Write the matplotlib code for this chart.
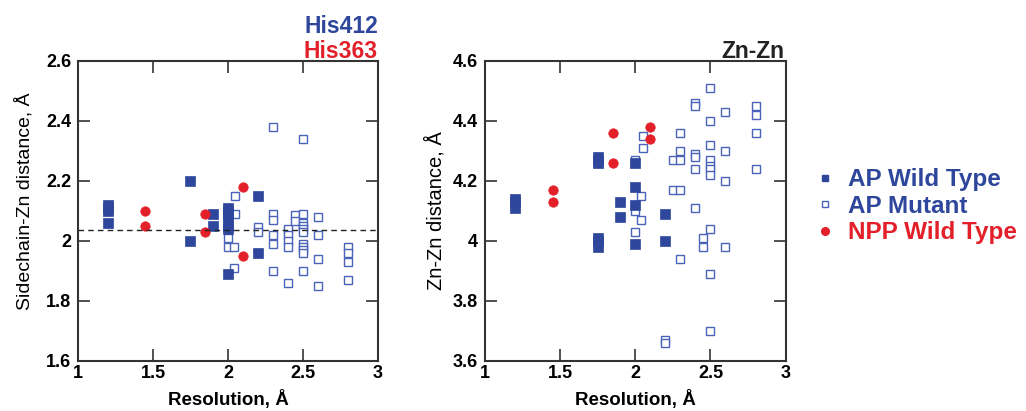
import matplotlib.pyplot as plt

plt.rcParams['font.family'] = ['Liberation Sans', 'DejaVu Sans']

BLUE = '#2E479C'
BLUE_OPEN = '#4A62B8'
RED = '#E3202A'

# ---- left panel: sidechain-Zn distance ----
wt_res_L = [1.2, 1.2, 1.2, 1.2, 1.75, 1.75, 1.9, 1.9,
            2.0, 2.0, 2.0, 2.0, 2.0, 2.0, 2.0, 2.2, 2.2]
wt_dist_L = [2.12, 2.11, 2.10, 2.06, 2.20, 2.00, 2.09, 2.05,
             2.11, 2.10, 2.09, 2.08, 2.05, 2.04, 1.89, 2.15, 1.96]

mut_res_L = [2.0, 2.0, 2.0, 2.04, 2.04, 2.05, 2.05, 2.2, 2.2,
             2.3, 2.3, 2.3, 2.3, 2.3, 2.3,
             2.4, 2.4, 2.4, 2.4, 2.4, 2.45, 2.45,
             2.5, 2.5, 2.5, 2.5, 2.5, 2.5, 2.5, 2.5, 2.5, 2.5, 2.5,
             2.6, 2.6, 2.6, 2.6, 2.8, 2.8, 2.8, 2.8]
mut_dist_L = [2.06, 2.01, 1.98, 1.98, 1.91, 2.15, 2.09, 2.045, 2.03,
              2.38, 2.09, 2.07, 2.02, 1.99, 1.90,
              2.04, 2.02, 2.00, 1.98, 1.86, 2.085, 2.067,
              2.34, 2.09, 2.06, 2.05, 2.04, 2.03, 1.99, 1.98, 1.97, 1.96, 1.90,
              2.08, 2.02, 1.94, 1.85, 1.98, 1.96, 1.93, 1.87]

npp_res_L = [1.45, 1.45, 1.85, 1.85, 2.1, 2.1]
npp_dist_L = [2.10, 2.05, 2.09, 2.03, 2.18, 1.95]

mean_L = 2.038

# ---- right panel: Zn-Zn distance ----
wt_res_R = [1.2, 1.2, 1.2, 1.75, 1.75, 1.75, 1.75, 1.75, 1.75,
            1.9, 1.9, 2.0, 2.0, 2.0, 2.0, 2.2, 2.2]
wt_dist_R = [4.14, 4.13, 4.11, 4.28, 4.27, 4.26, 4.01, 4.00, 3.98,
             4.13, 4.08, 4.26, 4.18, 4.12, 3.99, 4.09, 4.00]

mut_res_R = [2.0, 2.0, 2.0, 2.04, 2.04, 2.05, 2.05, 2.2, 2.2, 2.25, 2.25,
             2.3, 2.3, 2.3, 2.3, 2.3,
             2.4, 2.4, 2.4, 2.4, 2.4, 2.4, 2.45, 2.45,
             2.5, 2.5, 2.5, 2.5, 2.5, 2.5, 2.5, 2.5, 2.5, 2.5,
             2.6, 2.6, 2.6, 2.6, 2.8, 2.8, 2.8, 2.8]
mut_dist_R = [4.27, 4.10, 4.03, 4.15, 4.07, 4.35, 4.31, 3.67, 3.66, 4.27, 4.17,
              4.36, 4.30, 4.27, 4.17, 3.94,
              4.46, 4.45, 4.29, 4.28, 4.24, 4.11, 4.01, 3.98,
              4.51, 4.40, 4.32, 4.27, 4.25, 4.24, 4.22, 4.04, 3.89, 3.70,
              4.43, 4.30, 4.20, 3.98, 4.45, 4.42, 4.36, 4.24]

npp_res_R = [1.45, 1.45, 1.85, 1.85, 2.1, 2.1]
npp_dist_R = [4.17, 4.13, 4.36, 4.26, 4.38, 4.34]

x_ticks = [1, 1.5, 2, 2.5, 3]
x_labels = ['1', '1.5', '2', '2.5', '3']
y_ticks_L = [1.6, 1.8, 2.0, 2.2, 2.4, 2.6]
y_labels_L = ['1.6', '1.8', '2', '2.2', '2.4', '2.6']
y_ticks_R = [3.6, 3.8, 4.0, 4.2, 4.4, 4.6]
y_labels_R = ['3.6', '3.8', '4', '4.2', '4.4', '4.6']


def dibuja_panel(ax, wt_x, wt_y, mut_x, mut_y, npp_x, npp_y, yt, yl):
    ax.plot(mut_x, mut_y, 's', ms=6.3, mfc='white', mec=BLUE_OPEN, mew=1.0, ls='none')
    ax.plot(wt_x, wt_y, 's', ms=6.5, mfc=BLUE, mec=BLUE, mew=0.5, ls='none')
    ax.plot(npp_x, npp_y, 'o', ms=6.8, mfc=RED, mec=RED, mew=0.5, ls='none')
    ax.set_xlim(1, 3)
    ax.set_ylim(yt[0], yt[-1])
    ax.set_xticks(x_ticks)
    ax.set_xticklabels(x_labels, fontsize=13, fontweight='bold')
    ax.set_yticks(yt)
    ax.set_yticklabels(yl, fontsize=13, fontweight='bold')
    ax.tick_params(direction='in', length=8.5, width=1.2, top=True, right=True,
                   color='#333333')
    ax.tick_params(axis='x', pad=3)
    ax.tick_params(axis='y', pad=5)
    for s in ax.spines.values():
        s.set_linewidth(1.5)
        s.set_color('#333333')
    ax.set_xlabel('Resolution, Å', fontsize=13.5, fontweight='bold', labelpad=6)


fig = plt.figure(figsize=(10.26, 4.11), dpi=100)
ax1 = fig.add_axes([0.076, 0.1217, 0.2924, 0.73])
ax2 = fig.add_axes([0.4727, 0.1217, 0.293, 0.73])

dibuja_panel(ax1, wt_res_L, wt_dist_L, mut_res_L, mut_dist_L, npp_res_L, npp_dist_L,
             y_ticks_L, y_labels_L)
ax1.axhline(mean_L, color='#222222', ls=(0, (4, 3)), lw=1.0)
ax1.set_ylabel('Sidechain-Zn distance, Å', fontsize=14)
ax1.yaxis.set_label_coords(-0.148, 0.533)
ax1.text(1.0, 1.093, 'His412', transform=ax1.transAxes, ha='right', va='baseline',
         fontsize=16.5, fontweight='bold', color=BLUE)
ax1.text(1.0, 1.01, 'His363', transform=ax1.transAxes, ha='right', va='baseline',
         fontsize=16.5, fontweight='bold', color=RED)

dibuja_panel(ax2, wt_res_R, wt_dist_R, mut_res_R, mut_dist_R, npp_res_R, npp_dist_R,
             y_ticks_R, y_labels_R)
ax2.set_ylabel('Zn-Zn distance, Å', fontsize=14.5)
ax2.yaxis.set_label_coords(-0.13, 0.5)
ax2.text(0.995, 1.01, 'Zn-Zn', transform=ax2.transAxes, ha='right', va='baseline',
         fontsize=16.5, fontweight='bold', color='#222222')

# leyenda
h1, = ax2.plot([], [], 's', ms=5, mfc=BLUE, mec=BLUE)
h2, = ax2.plot([], [], 's', ms=5, mfc='white', mec=BLUE_OPEN, mew=1.0)
h3, = ax2.plot([], [], 'o', ms=5.5, mfc=RED, mec=RED)
leg = fig.legend([h1, h2, h3], ['AP Wild Type', 'AP Mutant', 'NPP Wild Type'],
                 loc='center left', bbox_to_anchor=(0.786, 0.498), frameon=False,
                 prop={'size': 17.5, 'weight': 'bold'}, handlelength=0.75,
                 handletextpad=0.55, labelspacing=0.14, borderpad=0.2,
                 borderaxespad=0.2)
for t, c in zip(leg.get_texts(), [BLUE, BLUE, RED]):
    t.set_color(c)

fig.savefig('out.png', dpi=100)
